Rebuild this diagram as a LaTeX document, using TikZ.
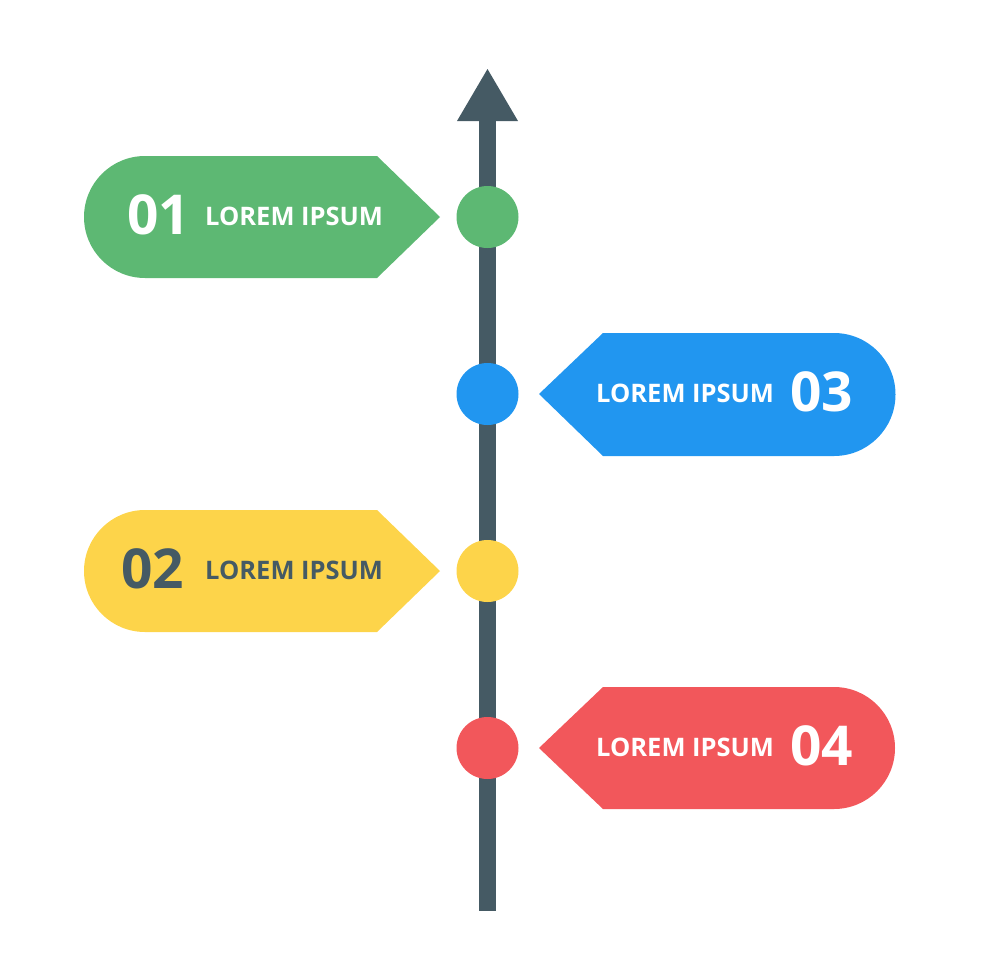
\documentclass[tikz,border=0pt]{standalone}
\usepackage{fontspec}
\setmainfont{Open Sans}
\usetikzlibrary{arrows.meta}
\definecolor{cgreen}{HTML}{5DB873}
\definecolor{cblue}{HTML}{2196F0}
\definecolor{cyellow}{HTML}{FDD44A}
\definecolor{cred}{HTML}{F2575B}
\definecolor{cdark}{HTML}{455A64}
\tikzset{
  dot/.style={circle,minimum size=62pt,inner sep=0pt},
  bignum/.style={font=\fontsize{55}{55}\selectfont\bfseries,inner sep=0pt},
  lbl/.style={font=\fontsize{25.5}{25.5}\selectfont\bfseries,inner sep=0pt},
}
\begin{document}
\begin{tikzpicture}[x=1pt,y=-1pt]
\useasboundingbox (0,0) rectangle (980,980);
% axis
\fill[cdark] (479,911) rectangle (496,115);
\fill[cdark] (457,121) -- (487.5,69) -- (518,121) -- cycle;
% left tags
\fill[cgreen] (145,156) -- (377,156) -- (440,217) -- (377,278) -- (145,278) arc[start angle=270,end angle=90,x radius=61,y radius=-61] -- cycle;
\fill[cyellow] (145,510) -- (377,510) -- (440,571) -- (377,632) -- (145,632) arc[start angle=270,end angle=90,x radius=61,y radius=-61] -- cycle;
% right tags
\fill[cblue] (834,333) -- (603,333) -- (539,394) -- (603,456) -- (834,456) arc[start angle=-90,end angle=90,x radius=61.5,y radius=-61.5] -- cycle;
\fill[cred] (834,687) -- (603,687) -- (539,748) -- (603,809) -- (834,809) arc[start angle=-90,end angle=90,x radius=61,y radius=-61] -- cycle;
% dots
\node[dot,fill=cgreen] (d1) at (487.5,217) {};
\node[dot,fill=cblue] (d3) at (487.5,394) {};
\node[dot,fill=cyellow] (d2) at (487.5,571) {};
\node[dot,fill=cred] (d4) at (487.5,748) {};
% texts
\node[bignum,white,anchor=west] (n1) at (127,215) {01};
\node[lbl,white,anchor=west] (t1) at (205,216) {LOREM IPSUM};
\node[bignum,cdark,anchor=west] (n2) at (121,569) {02};
\node[lbl,cdark,anchor=west] (t2) at (205,570) {LOREM IPSUM};
\node[lbl,white,anchor=west] (t3) at (596,393) {LOREM IPSUM};
\node[bignum,white,anchor=west] (n3) at (790,392) {03};
\node[lbl,white,anchor=west] (t4) at (596,747) {LOREM IPSUM};
\node[bignum,white,anchor=west] (n4) at (790,746) {04};
\end{tikzpicture}
\end{document}
